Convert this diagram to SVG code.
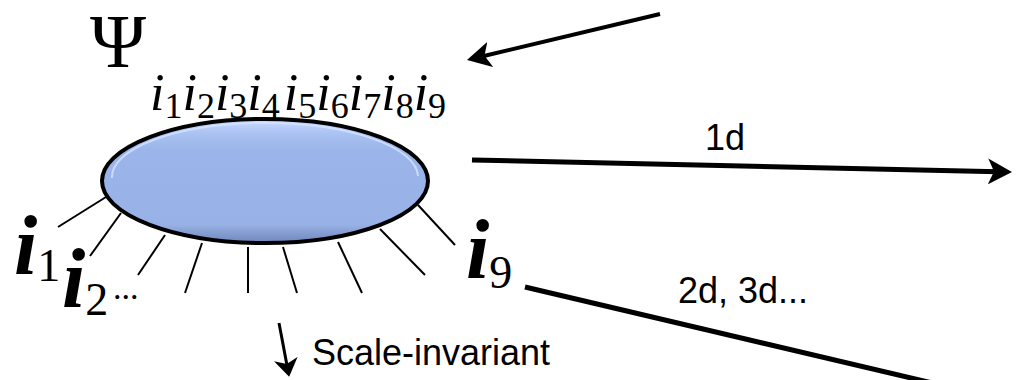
<svg xmlns="http://www.w3.org/2000/svg" width="1020" height="380" viewBox="0 0 1020 380">
<style>
.math{font-family:"Liberation Serif","Times New Roman",serif;fill:#000}
.it{font-style:italic}
.lbl{font-family:"Liberation Sans",Arial,sans-serif;fill:#000;font-size:36px}
.leg{stroke:#000;stroke-width:2;fill:none}
.conn{stroke:#000;fill:none}
</style>
<defs>
<marker id="head" markerUnits="userSpaceOnUse" viewBox="0 0 24 26" markerWidth="24" markerHeight="26" refX="10" refY="13" orient="auto">
<path d="M0,0 L24,13 L0,26 L6,13 Z" fill="#000"/>
</marker>
<marker id="headS" markerUnits="userSpaceOnUse" viewBox="0 0 18 24" markerWidth="18" markerHeight="24" refX="8" refY="12" orient="auto">
<path d="M0,0 L18,12 L0,24 L5,12 Z" fill="#000"/>
</marker>
<linearGradient id="blob" x1="0" y1="0" x2="0" y2="1">
<stop offset="0" stop-color="#c9dbff"/>
<stop offset="0.12" stop-color="#a9c2f2"/>
<stop offset="0.25" stop-color="#9bb5ea"/>
<stop offset="0.85" stop-color="#98b2e7"/>
<stop offset="1" stop-color="#6f86b8"/>
</linearGradient>
</defs>

<g id="psi">
<text class="math" x="90" y="67" font-size="76">Ψ</text>
<text class="math" x="150" y="110" font-size="52"><tspan class="it">i</tspan><tspan font-size="36" dy="8">1</tspan><tspan class="it" dy="-8">i</tspan><tspan font-size="36" dy="8">2</tspan><tspan class="it" dy="-8">i</tspan><tspan font-size="36" dy="8">3</tspan><tspan class="it" dy="-8">i</tspan><tspan font-size="36" dy="8">4</tspan><tspan class="it" dy="-8" dx="4">i</tspan><tspan font-size="36" dy="8">5</tspan><tspan class="it" dy="-8">i</tspan><tspan font-size="36" dy="8">6</tspan><tspan class="it" dy="-8">i</tspan><tspan font-size="36" dy="8">7</tspan><tspan class="it" dy="-8">i</tspan><tspan font-size="36" dy="8">8</tspan><tspan class="it" dy="-8">i</tspan><tspan font-size="36" dy="8">9</tspan></text>
</g>

<g id="tensor">
<line class="leg" x1="58" y1="227" x2="106" y2="197"/>
<line class="leg" x1="90" y1="256" x2="121" y2="213"/>
<line class="leg" x1="138" y1="275" x2="165" y2="235"/>
<line class="leg" x1="185" y1="293" x2="202" y2="243"/>
<line class="leg" x1="248" y1="293" x2="248" y2="247"/>
<line class="leg" x1="297" y1="293" x2="283" y2="247"/>
<line class="leg" x1="362" y1="293" x2="338" y2="242"/>
<line class="leg" x1="425" y1="275" x2="380" y2="229"/>
<line class="leg" x1="455" y1="245" x2="418" y2="205"/>
<ellipse cx="265" cy="181" rx="163" ry="62" fill="url(#blob)" stroke="#000" stroke-width="4"/>
<path d="M112,178 A153,54 0 0 1 418,176" fill="none" stroke="#d6e4ff" stroke-width="2" opacity="0.8"/>
</g>

<g id="labels">
<text class="math" x="14" y="274" font-size="84"><tspan class="it" font-weight="bold">i</tspan><tspan font-size="46" dy="7">1</tspan></text>
<text class="math" x="62" y="307" font-size="84"><tspan class="it" font-weight="bold">i</tspan><tspan font-size="46" dy="8">2</tspan></text>
<text class="math" x="113" y="299" font-size="34">...</text>
<text class="math" x="466" y="278" font-size="84"><tspan class="it" font-weight="bold">i</tspan><tspan font-size="46" dy="10">9</tspan></text>
</g>

<g id="connectors">
<line class="conn" stroke-width="4" x1="660" y1="14" x2="480.6" y2="56.8" marker-end="url(#head)"/>
<line class="conn" stroke-width="5" x1="472" y1="160" x2="998" y2="171.7" marker-end="url(#head)"/>
<line class="conn" stroke-width="5" x1="525" y1="287" x2="945" y2="386"/>
<line class="conn" stroke-width="3" x1="279" y1="323" x2="287.3" y2="367" marker-end="url(#headS)"/>
</g>

<g id="edge-labels">
<text class="lbl" x="725" y="150" text-anchor="middle">1d</text>
<text class="lbl" x="678" y="303">2d, 3d...</text>
<text class="lbl" x="312" y="365">Scale-invariant</text>
</g>
</svg>
